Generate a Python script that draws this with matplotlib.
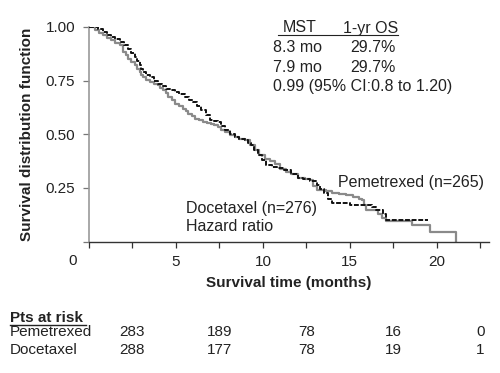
import matplotlib
matplotlib.use("Agg")
import matplotlib.pyplot as plt
import matplotlib.transforms as mtransforms
from matplotlib.ticker import FixedLocator

plt.rcParams['font.family'] = ['Liberation Sans', 'DejaVu Sans']

# Kaplan-Meier step data
pem_t = [0, 0.33, 0.55, 0.8, 1.05, 1.28, 1.5, 1.76, 1.95, 2.1, 2.24, 2.43, 2.62, 2.77,
         2.91, 3.0, 3.1, 3.3, 3.49, 3.75, 3.97, 4.1, 4.25, 4.4, 4.54, 4.75, 4.92, 5.15,
         5.4, 5.55, 5.69, 5.9, 6.07, 6.3, 6.55, 6.8, 7.03, 7.2, 7.41, 7.6, 7.8, 8.1,
         8.37, 8.65, 8.95, 9.25, 9.52, 9.8, 10.1, 10.4, 10.7, 11.0, 11.3, 11.6, 12.0,
         12.4, 12.7, 12.9, 13.1, 13.6, 14.0, 14.4, 14.8, 15.2, 15.5, 15.7, 15.82, 15.9,
         16.6, 16.85, 17.1, 18.55, 19.6, 21.1]
pem_s = [1.0, 0.985, 0.972, 0.961, 0.95, 0.938, 0.927, 0.915, 0.883, 0.868, 0.852,
         0.836, 0.821, 0.805, 0.79, 0.778, 0.767, 0.755, 0.744, 0.736, 0.728, 0.716,
         0.705, 0.69, 0.674, 0.658, 0.642, 0.63, 0.619, 0.607, 0.596, 0.584, 0.573,
         0.565, 0.557, 0.553, 0.549, 0.541, 0.534, 0.522, 0.51, 0.498, 0.487, 0.48,
         0.472, 0.45, 0.425, 0.405, 0.386, 0.375, 0.36, 0.34, 0.325, 0.315, 0.298,
         0.29, 0.287, 0.26, 0.24, 0.235, 0.228, 0.222, 0.215, 0.207, 0.2, 0.193, 0.17,
         0.147, 0.13, 0.11, 0.097, 0.077, 0.046, 0.0]

doc_t = [0, 0.5, 0.8, 1.05, 1.28, 1.5, 1.76, 2.0, 2.24, 2.43, 2.62, 2.77, 2.91, 3.0,
         3.1, 3.3, 3.49, 3.75, 3.97, 4.2, 4.44, 4.7, 4.92, 5.2, 5.5, 5.75, 5.98, 6.2,
         6.45, 6.7, 6.94, 7.2, 7.41, 7.6, 7.8, 8.1, 8.37, 8.65, 8.95, 9.15, 9.33, 9.5,
         9.71, 9.95, 10.2, 10.5, 10.8, 11.2, 11.6, 12.0, 12.3, 12.7, 13.1, 13.3, 13.5,
         13.75, 14.0, 15.0, 16.3, 16.5, 16.9, 17.1, 19.5]
doc_s = [1.0, 0.99, 0.977, 0.965, 0.953, 0.942, 0.93, 0.915, 0.899, 0.88, 0.86, 0.84,
         0.821, 0.805, 0.79, 0.778, 0.767, 0.75, 0.736, 0.724, 0.712, 0.705, 0.697,
         0.686, 0.674, 0.662, 0.65, 0.632, 0.612, 0.59, 0.565, 0.561, 0.557, 0.538,
         0.518, 0.503, 0.487, 0.48, 0.472, 0.46, 0.448, 0.425, 0.402, 0.378, 0.355,
         0.348, 0.342, 0.333, 0.315, 0.298, 0.293, 0.28, 0.263, 0.245, 0.225, 0.2,
         0.178, 0.172, 0.162, 0.147, 0.13, 0.10, 0.10]

risk_times = [2.5, 7.5, 12.5, 17.5, 22.5]
risk_pem = ["283", "189", "78", "16", "0"]
risk_doc = ["288", "177", "78", "19", "1"]

x_major = [0, 5, 10, 15, 20]
x_minor = [2.5, 7.5, 12.5, 17.5, 22.5]
y_ticks = [0, 0.25, 0.50, 0.75, 1.00]
y_labels = ["", "0.25", "0.50", "0.75", "1.00"]

W, H = 500, 373
fig = plt.figure(figsize=(5.0, 3.73), dpi=100)
ax = fig.add_axes([89 / W, 1 - 241.5 / H, (489 - 89) / W, (241.5 - 27) / H])

ax.plot(pem_t, pem_s, drawstyle='steps-post', color='#8a8a8a', lw=1.6, zorder=2)
ax.plot(doc_t, doc_s, drawstyle='steps-post', color='#111111', lw=1.4,
        dashes=(2.5, 0.9), zorder=3)

ax.set_xlim(0, 23)
ax.set_ylim(0, 1.0)
for s in ['top', 'right']:
    ax.spines[s].set_visible(False)
ax.spines['left'].set_color('#999999')
ax.spines['left'].set_linewidth(1.2)
ax.spines['bottom'].set_color('#333333')
ax.spines['bottom'].set_linewidth(1.0)

ax.xaxis.set_major_locator(FixedLocator(x_major))
ax.xaxis.set_minor_locator(FixedLocator(x_minor))
ax.set_xticklabels([""] + [str(v) for v in x_major[1:]])
ax.set_yticks(y_ticks)
ax.set_yticklabels(y_labels)
ax.tick_params(axis='x', which='both', direction='out', length=4, width=0.9,
               color='#333333', labelsize=11, labelcolor='#222222', pad=6)
ax.tick_params(axis='y', direction='out', length=4, width=0.9, color='#777777',
               labelsize=11, labelcolor='#222222', pad=6)
ax.set_xlabel("Survival time (months)", fontsize=11, fontweight='bold', labelpad=5,
              color='#222222')
ax.set_ylabel("Survival distribution function", fontsize=11, fontweight='bold',
              labelpad=8, color='#222222')
fig.text(73 / W, 1 - 261 / H, "0", fontsize=11, ha='center', va='center', color='#222222')

# annotations
tc = '#222222'
fs = 11.5
fig.text(283 / W, 1 - 28 / H, "MST", fontsize=fs, ha='left', va='center', color=tc)
fig.text(343 / W, 1 - 28 / H, "1-yr OS", fontsize=fs, ha='left', va='center', color=tc)
fig.add_artist(plt.Line2D([278 / W, 398 / W], [1 - 34.5 / H, 1 - 34.5 / H], color=tc, lw=0.8))
fig.text(273 / W, 1 - 48 / H, "8.3 mo", fontsize=fs, ha='left', va='center', color=tc)
fig.text(350 / W, 1 - 48 / H, "29.7%", fontsize=fs, ha='left', va='center', color=tc)
fig.text(273 / W, 1 - 67 / H, "7.9 mo", fontsize=fs, ha='left', va='center', color=tc)
fig.text(350 / W, 1 - 67 / H, "29.7%", fontsize=fs, ha='left', va='center', color=tc)
fig.text(273 / W, 1 - 86 / H, "0.99 (95% CI:0.8 to 1.20)", fontsize=fs, ha='left',
         va='center', color=tc)
fig.text(338 / W, 1 - 182 / H, "Pemetrexed (n=265)", fontsize=fs, ha='left',
         va='center', color=tc)
fig.text(186 / W, 1 - 208 / H, "Docetaxel (n=276)", fontsize=fs, ha='left',
         va='center', color=tc)
fig.text(186 / W, 1 - 227 / H, "Hazard ratio", fontsize=fs, ha='left', va='center', color=tc)

# risk table
rs = 11
fig.text(10 / W, 1 - 318.5 / H, "Pts at risk", fontsize=rs, fontweight='bold',
         ha='left', va='center', color=tc)
fig.add_artist(plt.Line2D([10 / W, 86 / W], [1 - 324.8 / H, 1 - 324.8 / H], color=tc, lw=1.0))
fig.text(10 / W, 1 - 332 / H, "Pemetrexed", fontsize=rs, ha='left', va='center', color=tc)
fig.text(10 / W, 1 - 350 / H, "Docetaxel", fontsize=rs, ha='left', va='center', color=tc)
trans = mtransforms.blended_transform_factory(ax.transData, fig.transFigure)
for t, a, b in zip(risk_times, risk_pem, risk_doc):
    fig.text(t, 1 - 332 / H, a, transform=trans, fontsize=rs, ha='center', va='center', color=tc)
    fig.text(t, 1 - 350 / H, b, transform=trans, fontsize=rs, ha='center', va='center', color=tc)

fig.savefig("out.png", dpi=100)
